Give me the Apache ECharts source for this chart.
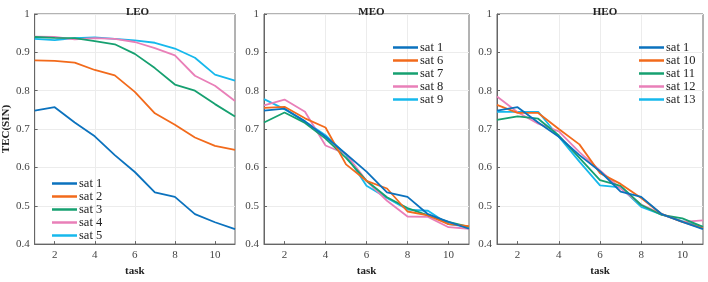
<!DOCTYPE html>
<html><head><meta charset="utf-8">
<script src="https://cdn.jsdelivr.net/npm/echarts@6/dist/echarts.min.js"></script>
<style>html,body{margin:0;padding:0;background:#fff}#c{width:708px;height:282px}</style>
</head><body><div id="c"></div>
<script>
const tasks = [1,2,3,4,5,6,7,8,9,10,11];
const xTicks = [2,4,6,8,10];
const yTicks = [0.4,0.5,0.6,0.7,0.8,0.9,1];
const panelTitles = ['LEO','MEO','HEO'];

const leoNames = ['sat 1','sat 2','sat 3','sat 4','sat 5'];
const leoSat1 = [0.748,0.757,0.717,0.681,0.632,0.588,0.535,0.523,0.478,0.457,0.439];
const leoSat2 = [0.879,0.878,0.873,0.854,0.840,0.797,0.741,0.711,0.678,0.656,0.646];
const leoSat3 = [0.940,0.938,0.937,0.929,0.921,0.896,0.859,0.816,0.800,0.765,0.733];
const leoSat4 = [0.941,0.940,0.934,0.937,0.935,0.927,0.911,0.892,0.839,0.813,0.773];
const leoSat5 = [0.935,0.932,0.937,0.939,0.935,0.931,0.925,0.910,0.886,0.842,0.826];

const meoNames = ['sat 1','sat 6','sat 7','sat 8','sat 9'];
const meoSat1 = [0.748,0.753,0.720,0.680,0.635,0.589,0.535,0.523,0.478,0.458,0.440];
const meoSat6 = [0.755,0.758,0.728,0.704,0.608,0.565,0.545,0.485,0.475,0.452,0.447];
const meoSat7 = [0.717,0.743,0.716,0.675,0.625,0.565,0.522,0.494,0.475,0.458,0.445];
const meoSat8 = [0.762,0.777,0.745,0.657,0.635,0.565,0.513,0.472,0.471,0.444,0.440];
const meoSat9 = [0.778,0.752,0.720,0.684,0.633,0.552,0.520,0.490,0.487,0.452,0.445];

const heoNames = ['sat 1','sat 10','sat 11','sat 12','sat 13'];
const heoSat1  = [0.748,0.757,0.717,0.680,0.632,0.590,0.537,0.523,0.478,0.458,0.439];
const heoSat10 = [0.763,0.742,0.742,0.700,0.660,0.585,0.557,0.520,0.478,0.458,0.441];
const heoSat11 = [0.724,0.733,0.727,0.683,0.625,0.567,0.552,0.502,0.476,0.467,0.445];
const heoSat12 = [0.785,0.744,0.714,0.694,0.640,0.592,0.545,0.503,0.478,0.458,0.462];
const heoSat13 = [0.745,0.745,0.745,0.680,0.615,0.553,0.548,0.497,0.477,0.460,0.445];

const colors = ['#0B72BE','#F26A1B','#16A070','#E97FB8','#16B8EC'];
const panels = [
  {names: leoNames, data: [leoSat1,leoSat2,leoSat3,leoSat4,leoSat5]},
  {names: meoNames, data: [meoSat1,meoSat6,meoSat7,meoSat8,meoSat9]},
  {names: heoNames, data: [heoSat1,heoSat10,heoSat11,heoSat12,heoSat13]}
];
const gridPos = [{left:30,right:708-235},{left:264,right:708-469},{left:497,right:708-703}];
const legendPos = [{left:52,top:177},{left:393,top:41},{left:639,top:41}];
const font = 'Liberation Serif';

const grids=[],xAxes=[],yAxes=[],series=[],titles=[],legends=[];
panels.forEach((p,i)=>{
  grids.push({left:gridPos[i].left,right:gridPos[i].right,top:14,bottom:26,show:true,borderColor:'#666',borderWidth:1,backgroundColor:'#fff'});
  xAxes.push({type:'value',gridIndex:i,min:1,max:11,interval:1,
    axisLine:{lineStyle:{color:'#666'}},
    axisTick:{inside:true,length:3,lineStyle:{color:'#666'},customValues:xTicks},
    axisLabel:{color:'#444',fontFamily:font,fontSize:11,margin:6,customValues:xTicks},
    splitLine:{show:true,lineStyle:{color:'#ececec'},showMinLine:false,showMaxLine:false},
    name:'task',nameLocation:'middle',nameGap:16,nameTextStyle:{fontFamily:font,fontWeight:'bold',fontSize:11,color:'#222'}});
  const ya={type:'value',gridIndex:i,min:0.4,max:1,interval:0.1,
    axisLine:{show:true,lineStyle:{color:'#666'}},
    axisTick:{show:true,inside:true,length:3,lineStyle:{color:'#666'}},
    axisLabel:{color:'#444',fontFamily:font,fontSize:11,margin:5,formatter:v=>String(Math.round(v*10)/10)},
    splitLine:{show:true,lineStyle:{color:'#ececec'}}};
  if(i===0){ya.name='TEC(SIN)';ya.nameLocation='middle';ya.nameGap=20;ya.nameTextStyle={fontFamily:font,fontWeight:'bold',fontSize:11,color:'#222'};}
  yAxes.push(ya);
  titles.push({text:panelTitles[i],left:(gridPos[i].left+(708-gridPos[i].right))/2,top:2,textAlign:'center',
    textStyle:{fontFamily:font,fontWeight:'bold',fontSize:11,color:'#222'}});
  legends.push({orient:'vertical',left:legendPos[i].left,top:legendPos[i].top,itemGap:0,itemWidth:25,itemHeight:2.5,
    icon:'rect',
    data:p.names.map((n,k)=>({name:n,icon:'rect',itemStyle:{color:colors[k]}})),
    textStyle:{fontFamily:font,fontSize:12.5,color:'#222',lineHeight:12.7,padding:[0,0,0,-3]},selectedMode:false,padding:0});
  p.names.forEach((n,k)=>{
    series.push({type:'line',name:n,xAxisIndex:i,yAxisIndex:i,symbol:'none',
      data:tasks.map((t,j)=>[t,p.data[k][j]]),
      lineStyle:{width:1.8,color:colors[k]},itemStyle:{color:colors[k]},animation:false,z:10-k});
  });
});

const chart=echarts.init(document.getElementById('c'),null,{renderer:'canvas'});
chart.setOption({animation:false,color:colors,title:titles,legend:legends,grid:grids,xAxis:xAxes,yAxis:yAxes,series:series});
</script></body></html>
